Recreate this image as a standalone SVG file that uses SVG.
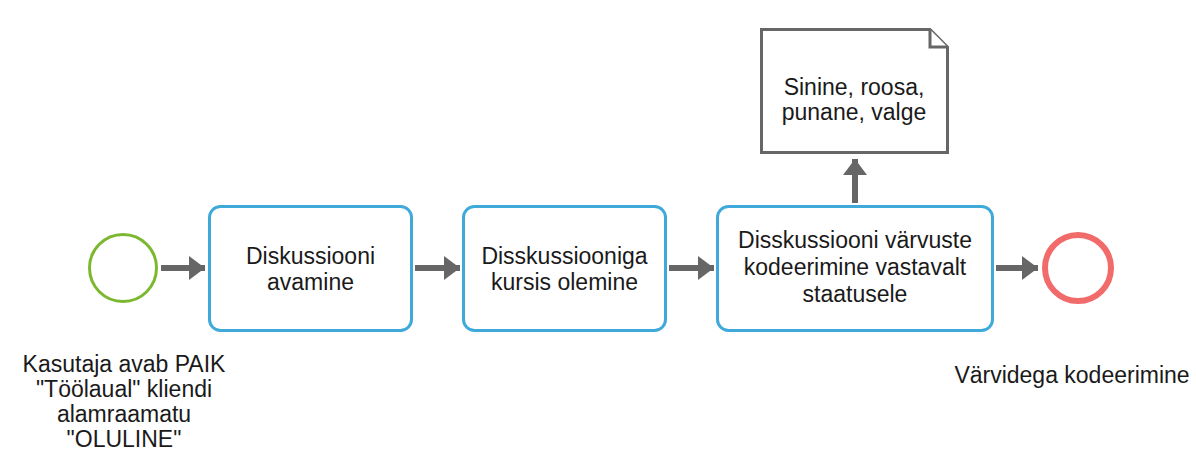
<svg xmlns="http://www.w3.org/2000/svg" width="1196" height="453" viewBox="0 0 1196 453">
  <style>
    text { font-family: "Liberation Sans", Arial, Helvetica, sans-serif; font-size: 23px; fill: #1a1a1a; text-anchor: middle; }
    .task { fill: #ffffff; stroke: #3fa9d9; stroke-width: 3; }
    .start { fill: #ffffff; stroke: #7cb82f; stroke-width: 3; }
    .end { fill: #ffffff; stroke: #f26b6b; stroke-width: 6; }
    .doc { fill: #ffffff; stroke: #666666; stroke-width: 3; stroke-linejoin: miter; }
    .flow { stroke: #666666; stroke-width: 6; fill: none; }
  </style>
  <defs>
    <marker id="arrow" viewBox="0 0 16 24" refX="16" refY="12" markerWidth="16" markerHeight="24" markerUnits="userSpaceOnUse" orient="auto">
      <path d="M0,0 L16,12 L0,24 Z" fill="#666666"/>
    </marker>
  </defs>

  <rect width="1196" height="453" fill="#ffffff"/>

  <!-- connectors -->
  <g id="connectors">
    <line class="flow" x1="161" y1="268" x2="205" y2="268" marker-end="url(#arrow)"/>
    <line class="flow" x1="415" y1="268" x2="460" y2="268" marker-end="url(#arrow)"/>
    <line class="flow" x1="669" y1="268" x2="714" y2="268" marker-end="url(#arrow)"/>
    <line class="flow" x1="996" y1="268" x2="1038" y2="268" marker-end="url(#arrow)"/>
    <line class="flow" x1="855" y1="203" x2="855" y2="159" marker-end="url(#arrow)"/>
  </g>

  <!-- start event -->
  <g id="start-event">
    <circle class="start" cx="123" cy="268" r="33.5"/>
    <text x="124" y="372">Kasutaja avab PAIK</text>
    <text x="124" y="397">"Töölaual" kliendi</text>
    <text x="124" y="422">alamraamatu</text>
    <text x="124" y="447">"OLULINE"</text>
  </g>

  <!-- tasks -->
  <g id="task-open">
    <rect class="task" x="209.5" y="206.5" width="202" height="124" rx="11"/>
    <text x="310.5" y="264">Diskussiooni</text>
    <text x="310.5" y="290">avamine</text>
  </g>

  <g id="task-follow">
    <rect class="task" x="463.5" y="206.5" width="202" height="124" rx="11"/>
    <text x="564.5" y="264">Disskussiooniga</text>
    <text x="564.5" y="290">kursis olemine</text>
  </g>

  <g id="task-colour">
    <rect class="task" x="717.5" y="206.5" width="275" height="124" rx="11"/>
    <text x="855" y="248">Disskussiooni värvuste</text>
    <text x="855" y="275">kodeerimine vastavalt</text>
    <text x="855" y="302">staatusele</text>
  </g>

  <!-- data object -->
  <g id="data-colours">
    <path class="doc" d="M761.5,29.5 H930 L947.5,47 V152.5 H761.5 Z"/>
    <path class="doc" d="M930,29.5 V47 H947.5" fill="none"/>
    <text x="854" y="95">Sinine, roosa,</text>
    <text x="854" y="120">punane, valge</text>
  </g>

  <!-- end event -->
  <g id="end-event">
    <circle class="end" cx="1078" cy="268" r="33"/>
    <text x="1072" y="383">Värvidega kodeerimine</text>
  </g>
</svg>
